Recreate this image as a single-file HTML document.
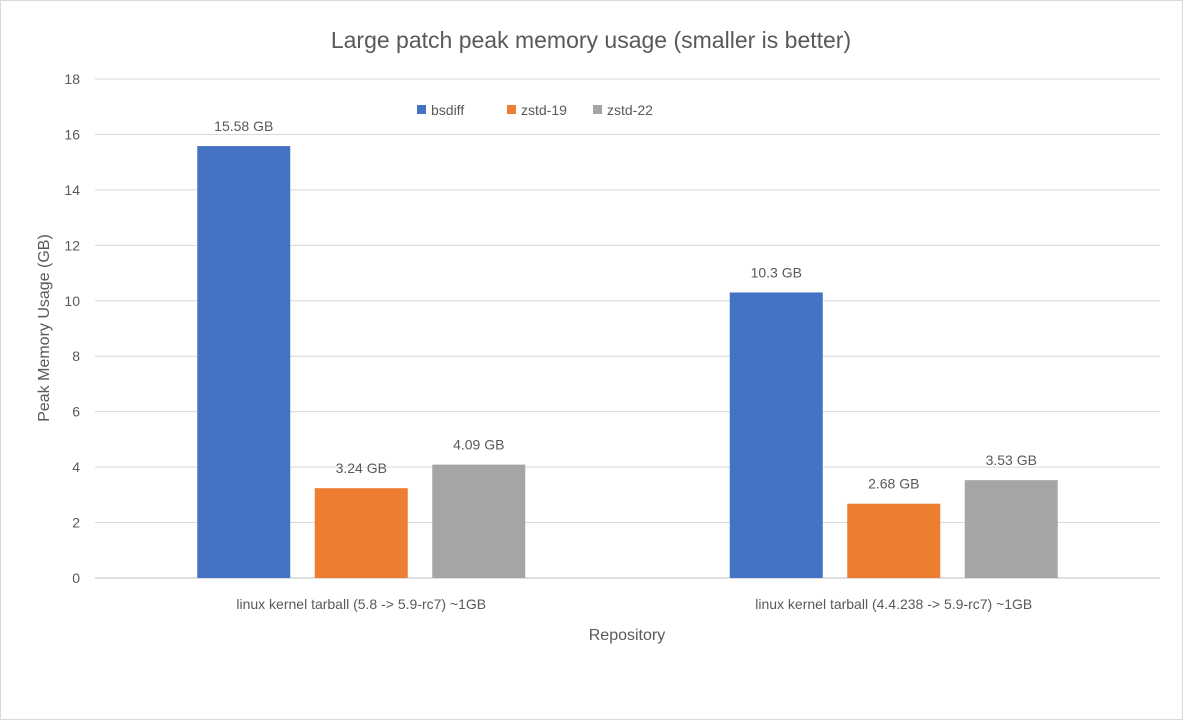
<!DOCTYPE html>
<html><head><meta charset="utf-8"><style>
body{margin:0;background:#fff;}
svg text{font-family:"Liberation Sans",sans-serif;fill:#595959;}
</style></head><body>
<svg id="chart" width="1183" height="720" xmlns="http://www.w3.org/2000/svg">
<rect x="0.5" y="0.5" width="1182" height="719" fill="#fff" stroke="#d9d9d9"/>
<text x="591" y="48" font-size="23" text-anchor="middle">Large patch peak memory usage (smaller is better)</text>
<g id="grid"></g><g id="bars"></g><g id="labels"></g>
<g>
<rect x="417" y="105" width="9" height="9" fill="#4472c4"/>
<text x="431" y="115" font-size="14">bsdiff</text>
<rect x="507" y="105" width="9" height="9" fill="#ed7d31"/>
<text x="521" y="115" font-size="14">zstd-19</text>
<rect x="593" y="105" width="9" height="9" fill="#a5a5a5"/>
<text x="607" y="115" font-size="14">zstd-22</text>
</g>
<text x="627" y="640" font-size="16" text-anchor="middle">Repository</text>
<text transform="translate(49,328) rotate(-90)" font-size="16" text-anchor="middle">Peak Memory Usage (GB)</text>
</svg>
<script>
const categories=["linux kernel tarball (5.8 -> 5.9-rc7) ~1GB","linux kernel tarball (4.4.238 -> 5.9-rc7) ~1GB"];
const seriesNames=["bsdiff","zstd-19","zstd-22"];
const bsdiff=[15.58,10.3];
const zstd19=[3.24,2.68];
const zstd22=[4.09,3.53];
const valueLabels=[["15.58 GB","10.3 GB"],["3.24 GB","2.68 GB"],["4.09 GB","3.53 GB"]];
const yTicks=[0,2,4,6,8,10,12,14,16,18];
const colors=["#4472c4","#ed7d31","#a5a5a5"];
const ns="http://www.w3.org/2000/svg";
const L=95,R=1160,Y0=578,Y18=79;
const y=v=>Y0-(v/18)*(Y0-Y18);
const band=(R-L)/categories.length;
const cx=i=>L+band*(i+0.5);
function mk(t,a){const e=document.createElementNS(ns,t);for(const k in a)e.setAttribute(k,a[k]);return e;}
const grid=document.getElementById('grid'),bars=document.getElementById('bars'),labels=document.getElementById('labels');
yTicks.forEach(t=>{
 const l=mk('line',{x1:L,x2:R,y1:y(t),y2:y(t),stroke:t===0?'#bfbfbf':'#d9d9d9','stroke-width':1});
 
 
 grid.appendChild(l);
 const tx=mk('text',{x:80,y:y(t)+5,'font-size':14,'text-anchor':'end'});tx.textContent=t;
 
 
 grid.appendChild(tx);
});
const series=[bsdiff,zstd19,zstd22];
const bw=93,step=117.5;
categories.forEach((c,i)=>{
 series.forEach((s,j)=>{
  const x=cx(i)+(j-1)*step-bw/2;
  const r=mk('rect',{x:x,y:y(s[i]),width:bw,height:Y0-y(s[i]),fill:colors[j]});
  
  
  bars.appendChild(r);
  const t=mk('text',{x:x+bw/2,y:y(s[i])-15,'font-size':14,'text-anchor':'middle'});t.textContent=valueLabels[j][i];
  
  
  labels.appendChild(t);
 });
 const t=mk('text',{x:cx(i),y:609,'font-size':14,'text-anchor':'middle'});t.textContent=c;
 
 
 labels.appendChild(t);
});
</script>
</body></html>
